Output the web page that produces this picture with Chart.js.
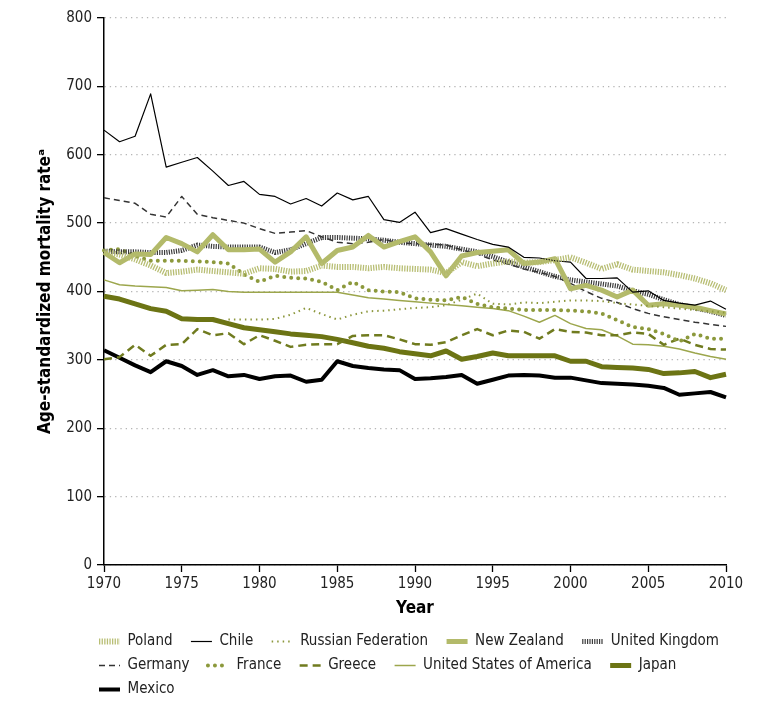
<!DOCTYPE html>
<html>
<head>
<meta charset="utf-8">
<script src="https://cdn.jsdelivr.net/npm/chart.js@4.4.0/dist/chart.umd.min.js"></script>
<style>
  html, body { margin: 0; padding: 0; background: #fff; }
</style>
</head>
<body>
<canvas id="chart" width="771" height="708"></canvas>
<script>
// Years on the x axis
const years = [1970, 1971, 1972, 1973, 1974, 1975, 1976, 1977, 1978, 1979,
  1980, 1981, 1982, 1983, 1984, 1985, 1986, 1987, 1988, 1989,
  1990, 1991, 1992, 1993, 1994, 1995, 1996, 1997, 1998, 1999,
  2000, 2001, 2002, 2003, 2004, 2005, 2006, 2007, 2008, 2009, 2010];

// Age-standardized mortality rate per country, one value per year
const poland = [458, 454, 447, 438, 427, 429, 432, 430, 428, 426,
  434, 433, 429, 430, 438, 436, 436, 434, 436, 434,
  433, 432, 427, 443, 437, 441, 444, 442, 443, 446,
  450, 442, 433, 440, 432, 430, 428, 424, 419, 412, 402];
const chile = [636, 619, 627, 689, 582, 589, 596, 576, 555, 561,
  542, 539, 528, 536, 525, 544, 534, 539, 505, 501,
  516, 486, 492, 484, 476, 469, 465, 450, 449, 445,
  443, 419, 419, 420, 399, 401, 387, 383, 380, 386, 374];
const russia = [null, null, null, null, null, null, null, null, 359, 359,
  359, 360, 366, 376, 367, 359, 366, 371, 372, 374,
  376, 377, 380, 388, 397, 382, 381, 384, 383, 385,
  387, 387, 386, 383, 381, 379, 377, 375, 373, 371, 369];
const newZealand = [457, 442, 455, 454, 479, 470, 458, 483, 461, 461,
  462, 443, 458, 480, 441, 460, 465, 482, 465, 473,
  480, 458, 423, 452, 457, 459, 461, 441, 443, 448,
  404, 409, 402, 392, 402, 380, 382, 380, 377, 372, 367];
const unitedKingdom = [459, 458, 458, 457, 457, 460, 468, 466, 465, 465,
  465, 457, 461, 470, 479, 479, 478, 477, 475, 472,
  470, 468, 466, 462, 458, 451, 443, 436, 429, 422,
  417, 414, 411, 408, 401, 396, 388, 381, 376, 371, 365];
const germany = [537, 533, 529, 513, 509, 539, 513, 508, 504, 500,
  492, 485, 487, 489, 480, 472, 470, 472, 476, 471,
  470, 469, 468, 461, 455, 446, 440, 433, 428, 422,
  412, 400, 390, 384, 375, 368, 363, 359, 355, 352, 349];
const france = [460, 462, 452, 445, 445, 445, 444, 443, 441, 425,
  414, 423, 420, 419, 414, 402, 414, 402, 400, 399,
  390, 388, 387, 392, 382, 377, 375, 373, 373, 373,
  372, 371, 368, 358, 348, 345, 338, 327, 338, 331, 331];
const greece = [301, 304, 322, 306, 322, 323, 345, 336, 339, 323,
  336, 328, 319, 322, 323, 323, 335, 336, 336, 330,
  323, 322, 326, 336, 345, 336, 343, 341, 331, 345,
  341, 340, 336, 336, 340, 338, 322, 331, 322, 316, 315];
const usa = [417, 410, 408, 407, 406, 401, 402, 403, 400, 399,
  399, 399, 399, 399, 399, 399, 395, 391, 389, 387,
  385, 383, 381, 379, 377, 375, 372, 364, 355, 365,
  353, 346, 344, 335, 323, 322, 320, 316, 310, 305, 301];
const japan = [393, 389, 382, 375, 371, 360, 359, 359, 353, 347,
  344, 341, 338, 336, 334, 330, 325, 320, 317, 312,
  309, 306, 313, 301, 305, 310, 306, 306, 306, 306,
  298, 298, 290, 289, 288, 286, 280, 281, 283, 274, 279];
const mexico = [314, 303, 292, 282, 298, 291, 278, 285, 276, 278,
  272, 276, 277, 268, 271, 298, 291, 288, 286, 285,
  272, 273, 275, 278, 265, 271, 277, 278, 277, 274,
  274, 270, 266, 265, 264, 262, 259, 249, 251, 253, 245];

const FONT = "'DejaVu Sans Condensed', 'DejaVu Sans', sans-serif";
Chart.defaults.font.family = FONT;
Chart.defaults.color = '#222';

function series(label, data, color, width, dash, cap) {
    return {
        label: label,
        data: data,
        borderColor: color,
        backgroundColor: color,
        borderWidth: width,
        borderDash: dash || [],
        borderCapStyle: cap || 'butt',
        borderJoinStyle: 'round',
        pointRadius: 0,
        pointHoverRadius: 0,
        pointStyle: 'line',
        tension: 0,
        spanGaps: true,
        fill: false
    };
}

const datasets = [
    series('Poland', poland, '#b8be74', 6, [1.3, 1.3]),
    series('Chile', chile, '#000000', 1.2),
    series('Russian Federation', russia, '#8d983e', 2, [1.5, 4]),
    series('New Zealand', newZealand, '#b3ba6a', 5),
    series('United Kingdom', unitedKingdom, '#3c3c3c', 5, [1.2, 1.2]),
    series('Germany', germany, '#333333', 1.5, [6, 4]),
    series('France', france, '#8c993c', 4, [0, 7], 'round'),
    series('Greece', greece, '#707b1f', 2.5, [8, 5]),
    series('United States of America', usa, '#9ca64c', 1.5),
    series('Japan', japan, '#6c7414', 5),
    series('Mexico', mexico, '#000000', 4)
];

// Push the legend right so its rows start under the y axis
const legendShift = {
    id: 'legendShift',
    afterLayout(chart) {
        chart.legend.left += 90;
        chart.legend.right += 90;
    }
};

const config = {
    type: 'line',
    data: {
        labels: years,
        datasets: datasets
    },
    options: {
        responsive: false,
        animation: false,
        devicePixelRatio: 1,
        layout: {
            padding: { top: 18, right: 45, bottom: 1, left: 0 }
        },
        plugins: {
            tooltip: { enabled: false },
            legend: {
                position: 'bottom',
                align: 'start',
                labels: {
                    usePointStyle: true,
                    pointStyleWidth: 21,
                    padding: 9,
                    color: '#222',
                    font: { size: 15 },
                    generateLabels(chart) {
                        return chart.data.datasets.map((ds, i) => ({
                            // trailing spaces widen the gap between items;
                            // the last one gets more so it drops to its own row
                            text: ds.label + (i === chart.data.datasets.length - 1
                                ? '\u2002\u2002\u2002\u2002\u2002\u2002\u2002\u2002\u2002\u2002'
                                : '\u2002\u2009'),
                            datasetIndex: i,
                            fillStyle: ds.borderColor,
                            strokeStyle: ds.borderColor,
                            lineWidth: ds.borderWidth,
                            lineDash: ds.borderDash,
                            lineCap: ds.borderCapStyle,
                            pointStyle: 'line',
                            fontColor: '#222',
                            hidden: false
                        }));
                    }
                }
            }
        },
        scales: {
            x: {
                type: 'category',
                afterFit(scale) { scale.height = 60; },
                grid: {
                    drawOnChartArea: false,
                    drawTicks: true,
                    tickLength: 7,
                    tickColor: '#000',
                    tickWidth: 1.3
                },
                border: { color: '#000', width: 1.5 },
                ticks: {
                    autoSkip: false,
                    maxRotation: 0,
                    padding: 3,
                    font: { size: 15 },
                    color: '#222',
                    callback: function (value, index) {
                        return years[index] % 5 === 0 ? String(years[index]) : null;
                    }
                },
                title: {
                    display: true,
                    text: 'Year',
                    font: { size: 17, weight: 'bold' },
                    color: '#000',
                    padding: { top: 0, bottom: 6 }
                }
            },
            y: {
                min: 0,
                max: 800,
                afterFit(scale) { scale.width = 104; },
                grid: {
                    color: '#b5b5b5',
                    lineWidth: 1.3,
                    tickLength: 7,
                    tickColor: '#000',
                    tickWidth: 1.3,
                    tickBorderDash: []
                },
                border: { color: '#000', width: 1.5, dash: [1.3, 4] },
                ticks: {
                    stepSize: 100,
                    padding: 5,
                    font: { size: 15 },
                    color: '#222'
                },
                title: {
                    display: true,
                    text: 'Age-standardized mortality rate\u1d43',
                    font: { size: 17, weight: 'bold' },
                    color: '#000',
                    padding: { top: 35, bottom: 0 }
                }
            }
        }
    },
    plugins: [legendShift]
};

const ctx = document.getElementById('chart').getContext('2d');
const myChart = new Chart(ctx, config);
</script>
</body>
</html>
